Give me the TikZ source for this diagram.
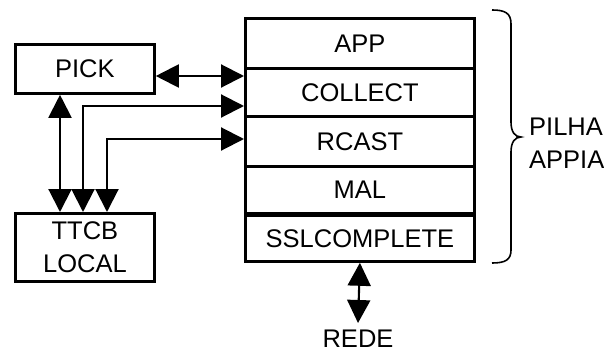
\documentclass[tikz,border=0pt]{standalone}
\usepackage{fontspec}
\setmainfont{Liberation Sans}
\usetikzlibrary{arrows.meta}
\begin{document}
\begin{tikzpicture}[x=1pt,y=-1pt,
  every node/.style={font=\fontsize{25.5}{33}\selectfont, inner sep=0pt},
  block/.style={draw, line width=2.8pt, anchor=north west},
  layer/.style={block, minimum width=229pt},
  link/.style={line width=2.1pt, {Triangle[length=23pt,width=23pt]}-{Triangle[length=23pt,width=23pt]}}]
\useasboundingbox (0,0) rectangle (604,353);

% side boxes
\node[block, minimum width=139pt, minimum height=49pt] (pick) at (14,43) {PICK};
\node[block, minimum width=139pt, minimum height=68pt, align=center] (ttcb) at (14,212) {TTCB\\LOCAL};

% protocol stack
\node[layer, minimum height=50pt] (app) at (244,17) {APP};
\node[layer, minimum height=48pt] (collect) at (244,67) {COLLECT};
\node[layer, minimum height=50pt] (rcast) at (244,115) {RCAST};
\node[layer, minimum height=47pt] (mal) at (244,165) {MAL};
\node[layer, minimum height=46pt] (ssl) at (244,214) {SSLCOMPLETE};

% entry points on the stack's left side
\coordinate (in1) at (244,76);
\coordinate (in2) at (244,106);
\coordinate (in3) at (244,139);
\coordinate (v1) at (60,0);
\coordinate (v2) at (83,0);
\coordinate (v3) at (107,0);

\draw[link] (pick.east |- in1) -- (in1);
\draw[link] (pick.south -| v1) -- (ttcb.north -| v1);
\draw[link] (ttcb.north -| v2) |- (in2);
\draw[link] (ttcb.north -| v3) |- (in3);

% network
\node (rede) at (358,338.5) {REDE};
\coordinate (net) at (358,323);
\draw[link] (ssl.south) -- (net);

% brace and stack label
\draw[line width=1.6pt] (492,10) .. controls (505,10) and (511,13) .. (511,24)
  -- (511,122) .. controls (511,132) and (515,137) .. (521,137)
  .. controls (515,137) and (511,142) .. (511,152)
  -- (511,250) .. controls (511,260) and (505,263) .. (492,263);
\node[anchor=west, align=left] (pilha) at (529,143) {PILHA\\APPIA};
\end{tikzpicture}
\end{document}
